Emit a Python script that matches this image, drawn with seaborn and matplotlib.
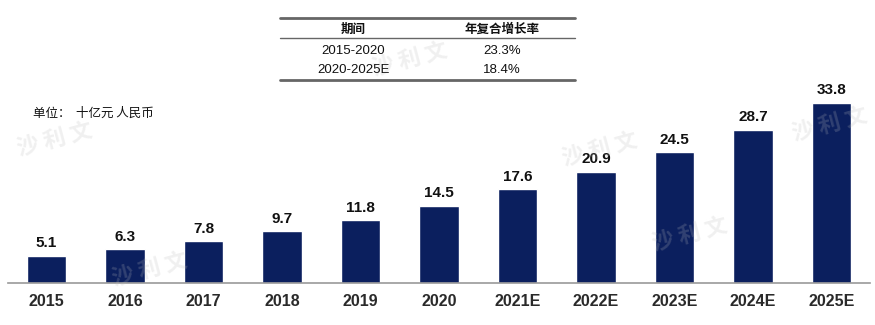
import matplotlib
matplotlib.use("Agg")
import matplotlib.pyplot as plt
import seaborn as sns
import pandas as pd

years = ["2015", "2016", "2017", "2018", "2019", "2020", "2021E", "2022E", "2023E", "2024E", "2025E"]
values = [5.1, 6.3, 7.8, 9.7, 11.8, 14.5, 17.6, 20.9, 24.5, 28.7, 33.8]
table_header = ["期间", "年复合增长率"]
table_periods = ["2015-2020", "2020-2025E"]
table_rates = ["23.3%", "18.4%"]
unit_text = "单位：  十亿元 人民币"

sns.set_theme(style="white")
plt.rcParams['font.family'] = ['Liberation Sans', 'Noto Sans CJK SC', 'DejaVu Sans']

W, H = 875, 325
fig = plt.figure(figsize=(W / 100, H / 100), dpi=100)
ax = fig.add_axes([8 / W, 42 / H, 862 / W, 278 / H])

df = pd.DataFrame({"year": years, "value": values})
sns.barplot(data=df, x="year", y="value", color="#0B1F5E", width=0.5, saturation=1, ax=ax)
ax.set_xlim(-0.49, len(years) - 0.51)
ax.set_ylim(0, 278 / 5.33)

for i, v in enumerate(values):
    ax.annotate(f"{v}", (i, v), xytext=(0, 4), textcoords="offset points",
                ha="center", va="bottom", fontsize=11, fontweight="bold", color="#111111")

for s in ["top", "right", "left"]:
    ax.spines[s].set_visible(False)
ax.spines["bottom"].set_color("#999999")
ax.spines["bottom"].set_linewidth(1.2)
ax.set_yticks([])
ax.set_xlabel("")
ax.set_ylabel("")
ax.tick_params(axis="x", length=0, pad=8)
for lab in ax.get_xticklabels():
    lab.set_fontsize(11.5)
    lab.set_fontweight("bold")
    lab.set_color("#2a2a2a")

# faint watermark
wm_pos = [(55, 140), (150, 270), (410, 60), (690, 235), (830, 125), (600, 150)]
for (x, y) in wm_pos:
    fig.text(x / W, 1 - y / H, "沙 利 文", fontsize=16, color="#BBBBBB", alpha=0.22,
             rotation=15, ha="center", va="center", fontweight="bold",
             family=['Noto Sans CJK SC', 'DejaVu Sans'])

# unit text
fig.text(33 / W, 1 - 113 / H, unit_text, fontsize=9, ha="left", va="center", color="#111111",
         family=['Noto Sans CJK SC', 'DejaVu Sans'])

# table
x0, x1 = 280 / W, 575 / W
for y, lw in [(18, 2.0), (38, 1.0), (80, 2.0)]:
    fig.add_artist(plt.Line2D([x0, x1], [1 - y / H, 1 - y / H], color="#666666", lw=lw))
cx = [353 / W, 502 / W]
for j, h in enumerate(table_header):
    fig.text(cx[j], 1 - 29 / H, h, fontsize=9, fontweight="bold", ha="center", va="center",
             family=['Noto Sans CJK SC', 'DejaVu Sans'], color="#111111")
for r, (p, rate) in enumerate(zip(table_periods, table_rates)):
    yy = 1 - (51 + r * 19) / H
    fig.text(cx[0], yy, p, fontsize=9.5, ha="center", va="center", color="#111111")
    fig.text(cx[1], yy, rate, fontsize=9.5, ha="center", va="center", color="#111111")

fig.savefig("out.png", dpi=100)
